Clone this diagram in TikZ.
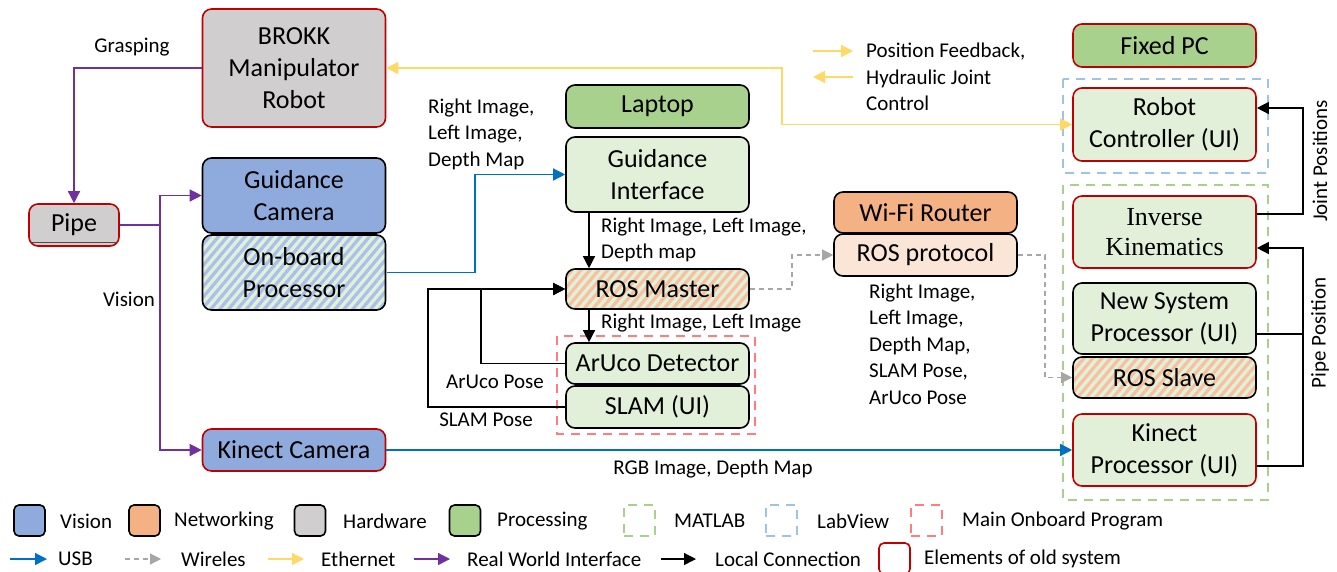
\documentclass[tikz,border=0pt]{standalone}
\usepackage{fontspec}
\setmainfont{Carlito}
\newfontfamily\tnr{Liberation Serif}
\usetikzlibrary{arrows.meta,patterns.meta}
\definecolor{oldred}{HTML}{C00000}
\definecolor{visblue}{HTML}{8FAADC}
\definecolor{netorange}{HTML}{F4B183}
\definecolor{hwgray}{HTML}{D0CECE}
\definecolor{procgreen}{HTML}{A9D18E}
\definecolor{lgreen}{HTML}{E2F0D9}
\definecolor{lorange}{HTML}{FBE5D6}
\definecolor{stripeblue}{HTML}{A8C0EA}
\definecolor{stripeorange}{HTML}{F7C09E}
\definecolor{usbblue}{HTML}{0070C0}
\definecolor{wiregray}{HTML}{A6A6A6}
\definecolor{ethyellow}{HTML}{FFD966}
\definecolor{rwpurple}{HTML}{7030A0}
\definecolor{labblue}{HTML}{9DC3E6}
\definecolor{mopred}{HTML}{FF7C80}
\begin{document}
\begin{tikzpicture}[x=1pt,y=-1pt,
  box/.style={rounded corners=9pt, draw=black, line width=1.6pt, inner sep=0pt,
    font=\fontsize{26}{32}\selectfont, align=center, text=black,
    minimum width=183pt},
  old/.style={draw=oldred},
  hatchblue/.style={preaction={fill=lgreen}, pattern={Lines[angle=50,distance=6.8pt,line width=3.2pt]}, pattern color=stripeblue},
  hatchorange/.style={preaction={fill=lgreen}, pattern={Lines[angle=50,distance=6.8pt,line width=3.2pt]}, pattern color=stripeorange},
  lbl/.style={font=\fontsize{21}{26.5}\selectfont, inner sep=0pt, align=left, text=black},
  tip/.style={-{Triangle[length=12pt,width=12pt]}},
  conn/.style={line width=1.3pt},
  purp/.style={conn, draw=rwpurple, tip},
  usb/.style={conn, draw=usbblue, tip},
  eth/.style={conn, draw=ethyellow},
  wire/.style={conn, draw=wiregray, dash pattern=on 5pt off 4pt, -{Triangle[length=11pt,width=11pt]}},
  loc/.style={conn, draw=black, tip},
  grp/.style={line width=2.2pt, dash pattern=on 9pt off 7pt},
  legsq/.style={draw=black, rounded corners=5pt, line width=1.6pt, minimum width=31pt, minimum height=31pt, inner sep=0pt},
  legdash/.style={grp, minimum width=31pt, minimum height=31pt, inner sep=0pt}
]
\useasboundingbox (0,0) rectangle (1337,571);

% group frames
\draw[grp, draw=mopred] (557,336) rectangle (755,434);
\draw[grp, draw=labblue] (1063,79) rectangle (1268,173);
\draw[grp, draw=procgreen] (1063,185) rectangle (1268,500);

% left column
\node[box, old, fill=hwgray, minimum height=118pt] (brokk) at (294,68) {BROKK\\Manipulator\\Robot};
\node[box, fill=visblue, minimum height=75pt] (gcam) at (294,195.5) {Guidance\\Camera};
\node[box, hatchblue, minimum height=75pt] (obp) at (294,272.5) {On-board\\Processor};
\node[box, old, fill=hwgray, minimum width=90pt, minimum height=42pt] (pipe) at (74,225) {Pipe};
\draw[line width=1pt, draw=black!70] (31,242) -- (117,242);
\node[box, old, fill=visblue, minimum height=42pt] (kcam) at (294,450) {Kinect Camera};

% middle column
\node[box, fill=procgreen, minimum height=43pt] (laptop) at (657.5,106.5) {Laptop};
\node[box, fill=lgreen, minimum height=75pt] (gint) at (657.5,174.5) {Guidance\\Interface};
\node[box, hatchorange, minimum height=40pt] (rosm) at (657.5,289) {ROS Master};
\node[box, fill=lgreen, minimum height=41pt] (aruco) at (657.5,363.5) {ArUco Detector};
\node[box, fill=lgreen, minimum height=42pt] (slam) at (657.5,407) {SLAM (UI)};

\node[box, fill=netorange, minimum height=41pt] (wifi) at (925.5,212.5) {Wi-Fi Router};
\node[box, fill=lorange, minimum height=42pt] (rosp) at (925.5,255) {ROS protocol};

% right column
\node[box, old, fill=procgreen, minimum height=43pt] (fpc) at (1164.5,45.5) {Fixed PC};
\node[box, old, fill=lgreen, minimum height=73pt] (rc) at (1164.5,124.5) {Robot\\Controller (UI)};
\node[box, old, fill=lgreen, minimum height=72pt, font=\tnr\fontsize{26}{30}\selectfont] (ik) at (1164.5,232) {Inverse\\Kinematics};
\node[box, fill=lgreen, minimum height=71pt] (nsp) at (1164.5,318.5) {New System\\Processor (UI)};
\node[box, hatchorange, minimum height=41pt] (rss) at (1164.5,377.5) {ROS Slave};
\node[box, old, fill=lgreen, minimum height=72pt] (kp) at (1164.5,450) {Kinect\\Processor (UI)};

% purple connectors
\draw[purp] (brokk.west) -| (pipe.north);
\coordinate (vs) at (160,225);
\draw[conn, draw=rwpurple] (pipe.east) -- (vs);
\draw[purp] (vs) |- (gcam.west);
\draw[purp] (vs) |- (kcam.west);
\node[lbl] (tgrasp) at (132,47) {Grasping};
\node[lbl] (tvision) at (129,299) {Vision};

% ethernet
\draw[eth, {Triangle[length=12pt,width=12pt]}-{Triangle[length=12pt,width=12pt]}] (brokk.east) -- (782,68) |- (rc.west);
\coordinate (ea1) at (813,51); \coordinate (ea2) at (853,51);
\coordinate (eb1) at (853,77); \coordinate (eb2) at (813,77);
\draw[eth, tip] (ea1) -- (ea2);
\draw[eth, tip] (eb1) -- (eb2);
\node[lbl, anchor=west] (tpf) at (866,77) {Position Feedback,\\Hydraulic Joint\\Control};

% usb
\draw[usb] (obp.east) -- (475,272.5) |- (gint.west);
\node[lbl, anchor=west] (tg1) at (428,134) {Right Image,\\Left Image,\\Depth Map};
\draw[usb] (kcam.east) -- (kp.west);
\node[lbl] (trgb) at (713,469) {RGB Image, Depth Map};

% local
\draw[loc] ([xshift=-68.5pt]gint.south) -- ([xshift=-68.5pt]rosm.north);
\node[lbl, anchor=west] (tg2) at (601,240) {Right Image, Left Image,\\Depth map};
\draw[loc] ([xshift=-68.5pt]rosm.south) -- ([xshift=-68.5pt]aruco.north);
\node[lbl, anchor=west] (tg3) at (601,323) {Right Image, Left Image};
\draw[loc] (aruco.west) -- (481,363.5) |- (rosm.west);
\draw[loc] (slam.west) -- (428,407) |- (rosm.west);
\node[lbl] (tap) at (495,382) {ArUco Pose};
\node[lbl] (tsp) at (486,420) {SLAM Pose};

% wireless
\draw[wire] (rosm.east) -- (792,289) |- (rosp.west);
\draw[wire] (rosp.east) -- (1045,255) |- (rss.west);
\node[lbl, anchor=west] (tros) at (869,344) {Right Image,\\Left Image,\\Depth Map,\\SLAM Pose,\\ArUco Pose};

% right side local
\draw[loc] ([yshift=18pt]ik.east) -- (1303,214) |- ([yshift=16.5pt]rc.east);
\draw[loc] ([yshift=-16pt]kp.east) -- (1303,466) |- ([yshift=-16pt]ik.east);
\draw[conn] ([yshift=-15.5pt]nsp.east) -- (1303,334);
\node[lbl, rotate=90] (tjp) at (1320,161) {Joint Positions};
\node[lbl, rotate=90] (tpp) at (1320,333) {Pipe Position};

% legend row 1
\node[legsq, fill=visblue] (l1) at (29.5,520.5) {};
\node[lbl, anchor=west] (l1t) at (60,521) {Vision};
\node[legsq, fill=netorange] (l2) at (144.5,520.5) {};
\node[lbl, anchor=west] (l2t) at (174,521) {Networking};
\node[legsq, fill=hwgray] (l3) at (310,520.5) {};
\node[lbl, anchor=west] (l3t) at (343,521) {Hardware};
\node[legsq, fill=procgreen] (l4) at (465,520.5) {};
\node[lbl, anchor=west] (l4t) at (497,521) {Processing};
\node[legdash, draw=procgreen] (l5) at (639.5,520.5) {};
\node[lbl, anchor=west] (l5t) at (674,521) {MATLAB};
\node[legdash, draw=labblue] (l6) at (781.5,520.5) {};
\node[lbl, anchor=west] (l6t) at (817,521) {LabView};
\node[legdash, draw=mopred] (l7) at (926.5,520.5) {};
\node[lbl, anchor=west] (l7t) at (962,521) {Main Onboard Program};

% legend row 2
\coordinate (a1) at (10,559); \coordinate (a1e) at (47,559);
\draw[usb] (a1) -- (a1e);
\node[lbl, anchor=west] (a1t) at (58,559) {USB};
\coordinate (a2) at (125,559); \coordinate (a2e) at (161,559);
\draw[wire] (a2) -- (a2e);
\node[lbl, anchor=west] (a2t) at (181,559) {Wireles};
\coordinate (a3) at (268,559); \coordinate (a3e) at (304,559);
\draw[eth, tip] (a3) -- (a3e);
\node[lbl, anchor=west] (a3t) at (321,559) {Ethernet};
\coordinate (a4) at (414,559); \coordinate (a4e) at (450,559);
\draw[purp] (a4) -- (a4e);
\node[lbl, anchor=west] (a4t) at (467,559) {Real World Interface};
\coordinate (a5) at (661,559); \coordinate (a5e) at (696,559);
\draw[loc] (a5) -- (a5e);
\node[lbl, anchor=west] (a5t) at (715,559) {Local Connection};
\node[legsq, draw=oldred, fill=white] (a6) at (894.5,558.5) {};
\node[lbl, anchor=west] (a6t) at (924,559) {Elements of old system};
\end{tikzpicture}
\end{document}
